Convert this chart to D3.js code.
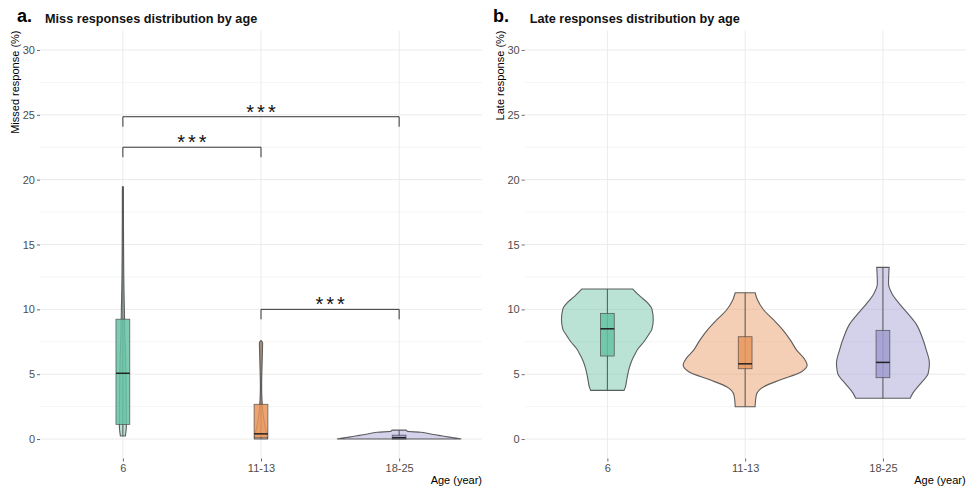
<!DOCTYPE html>
<html>
<head>
<meta charset="utf-8">
<script src="https://cdn.jsdelivr.net/npm/d3@7"></script>
<style>
body { margin: 0; background: #fff; }
text { font-family: "Liberation Sans", Arial, sans-serif; }
</style>
</head>
<body>
<div id="wrapper"></div>
<script>
// categories and axis ticks
const ageGroups = ["6", "11-13", "18-25"];
const yTicks = [0, 5, 10, 15, 20, 25, 30];
const yMinorTicks = [2.5, 7.5, 12.5, 17.5, 22.5, 27.5];

// violin outlines: [value (%), relative density]
const missViolin6 = [[0.23, 0.04], [1, 0.056], [2, 0.056], [4, 0.052], [6, 0.045], [8, 0.032], [10, 0.024], [12, 0.016], [15, 0.011], [19.45, 0.008]];
const missViolin1113 = [[0, 0.105], [0.1, 0.105], [0.5, 0.089], [1, 0.065], [2, 0.032], [3, 0.016], [4, 0.01], [5, 0.013], [6, 0.019], [7, 0.024], [7.4, 0.026], [7.58, 0.008]];
const missViolin1825 = [[0, 1], [0.05, 0.94], [0.15, 0.81], [0.25, 0.68], [0.35, 0.55], [0.45, 0.45], [0.52, 0.35], [0.6, 0.13], [0.69, 0.113]];

const lateViolin6 = [[3.75, 0.27], [4, 0.29], [4.5, 0.31], [5, 0.33], [5.5, 0.355], [6, 0.39], [6.5, 0.44], [7, 0.5], [7.5, 0.59], [8, 0.66], [8.5, 0.72], [9.2, 0.74], [10, 0.72], [10.5, 0.65], [11, 0.53], [11.57, 0.41]];
const lateViolin1113 = [[2.49, 0.16], [3.39, 0.18], [4.03, 0.3], [4.55, 0.56], [5.19, 0.91], [5.7, 1], [6.22, 0.95], [6.86, 0.83], [7.63, 0.73], [8.4, 0.61], [9.18, 0.46], [9.95, 0.3], [10.72, 0.2], [11.28, 0.16]];
const lateViolin1825 = [[3.14, 0.44], [3.52, 0.48], [4.29, 0.61], [5.07, 0.73], [5.84, 0.75], [6.86, 0.7], [7.89, 0.63], [8.92, 0.53], [9.69, 0.4], [10.46, 0.26], [11.23, 0.145], [12, 0.09], [13.24, 0.1]];

// box stats: [min, q1, median, q3, max]
const missBoxes = [[0.23, 1.13, 5.07, 9.24, 19.45], [0, 0.1, 0.4, 2.68, 7.58], [0, 0, 0.1, 0.3, 0.69]];
const lateBoxes = [[3.75, 6.4, 8.5, 9.69, 11.57], [2.49, 5.42, 5.8, 7.89, 11.28], [3.14, 4.73, 5.91, 8.38, 13.24]];

// significance brackets on the miss panel
const missBrackets = [
    { from: "6", to: "18-25", level: 24.85, label: "***" },
    { from: "6", to: "11-13", level: 22.5, label: "***" },
    { from: "11-13", to: "18-25", level: 10.0, label: "***" }
];

const groupColors = ["#66C2A5", "#E8955A", "#A09CD0"];

let dimensions = {
    width: 968,
    height: 489,
    top: 30.5,
    bottom: 458.5
}

let wrapper = d3.select("#wrapper").append("svg")
    .attr("width", dimensions.width)
    .attr("height", dimensions.height);
wrapper.append("rect").attr("width", dimensions.width).attr("height", dimensions.height).attr("fill", "#fff");

const yScaler = d3.scaleLinear()
    .domain([-1.5, 31.5])
    .range([dimensions.bottom, dimensions.top]);

function drawPanel(p) {
    const xScaler = d3.scalePoint()
        .domain(ageGroups)
        .range([p.left, p.right])
        .padding(0.6);
    const widthScaler = d3.scaleLinear().domain([0, 1]).range([0, 0.45 * xScaler.step()]);
    const boxWidth = 0.1 * xScaler.step();

    const g = wrapper.append("g");

    // grid
    g.selectAll(".minor").data(yMinorTicks).enter().append("line")
        .attr("x1", p.left).attr("x2", p.right)
        .attr("y1", d => yScaler(d)).attr("y2", d => yScaler(d))
        .attr("stroke", "#f3f3f3").attr("stroke-width", 0.8);
    g.selectAll(".major").data(yTicks).enter().append("line")
        .attr("x1", p.left).attr("x2", p.right)
        .attr("y1", d => yScaler(d)).attr("y2", d => yScaler(d))
        .attr("stroke", "#ebebeb").attr("stroke-width", 1);
    g.selectAll(".vgrid").data(ageGroups).enter().append("line")
        .attr("x1", d => xScaler(d)).attr("x2", d => xScaler(d))
        .attr("y1", dimensions.top).attr("y2", dimensions.bottom)
        .attr("stroke", "#ebebeb").attr("stroke-width", 1);

    // axes
    const yAxis = g.append("g")
        .attr("transform", `translate(${p.left},0)`)
        .call(d3.axisLeft(yScaler).tickValues(yTicks).tickSize(3).tickPadding(2));
    const xAxis = g.append("g")
        .attr("transform", `translate(0,${dimensions.bottom})`)
        .call(d3.axisBottom(xScaler).tickSize(3).tickPadding(3));
    [yAxis, xAxis].forEach(a => {
        a.select(".domain").remove();
        a.selectAll(".tick line").attr("stroke", "#444").attr("stroke-width", 0.8);
        a.selectAll(".tick text").attr("fill", "#4d4d4d").style("font-size", "11px")
            .style("font-family", "'Liberation Sans', Arial, sans-serif");
    });

    // violins
    p.violins.forEach((vd, i) => {
        const cx = xScaler(ageGroups[i]);
        const area = d3.area()
            .curve(d3.curveMonotoneY)
            .y(d => yScaler(d[0]))
            .x0(d => cx - widthScaler(d[1]))
            .x1(d => cx + widthScaler(d[1]));
        g.append("path")
            .attr("d", area(vd))
            .attr("fill", groupColors[i])
            .attr("fill-opacity", 0.45)
            .attr("stroke", "#444")
            .attr("stroke-opacity", 0.85)
            .attr("stroke-width", 1.1);
    });

    // boxplots
    p.boxes.forEach((b, i) => {
        const cx = xScaler(ageGroups[i]);
        g.append("line")
            .attr("x1", cx).attr("x2", cx)
            .attr("y1", yScaler(b[0])).attr("y2", yScaler(b[4]))
            .attr("stroke", "#555").attr("stroke-width", 1);
        g.append("rect")
            .attr("x", cx - boxWidth / 2)
            .attr("width", boxWidth)
            .attr("y", yScaler(b[3]))
            .attr("height", yScaler(b[1]) - yScaler(b[3]))
            .attr("fill", groupColors[i])
            .attr("fill-opacity", 0.85)
            .attr("stroke", "#444")
            .attr("stroke-opacity", 0.8)
            .attr("stroke-width", 0.8);
        g.append("line")
            .attr("x1", cx - boxWidth / 2).attr("x2", cx + boxWidth / 2)
            .attr("y1", yScaler(b[2])).attr("y2", yScaler(b[2]))
            .attr("stroke", "#222").attr("stroke-width", 1.5);
    });

    // significance brackets
    (p.brackets || []).forEach(br => {
        const x1 = xScaler(br.from), x2 = xScaler(br.to);
        const drop = 0.77;
        g.append("path")
            .attr("d", `M${x1},${yScaler(br.level - drop)}V${yScaler(br.level)}H${x2}V${yScaler(br.level - drop)}`)
            .attr("fill", "none")
            .attr("stroke", "#333")
            .attr("stroke-width", 1);
        g.append("text")
            .attr("x", (x1 + x2) / 2 + 1.5)
            .attr("y", yScaler(br.level) + 2)
            .attr("text-anchor", "middle")
            .style("font-size", "20px")
            .style("letter-spacing", "3px")
            .attr("fill", "#111")
            .text(br.label);
    });

    // titles
    g.append("text")
        .attr("x", p.letterX).attr("y", 22)
        .style("font-size", "18px").style("font-weight", "bold")
        .text(p.letter);
    g.append("text")
        .attr("x", p.left + 5).attr("y", 23)
        .style("font-size", "12.7px").style("font-weight", "bold")
        .attr("fill", "#111")
        .text(p.title);
    g.append("text")
        .attr("transform", `translate(${p.left - 21},${dimensions.top}) rotate(-90)`)
        .attr("text-anchor", "end")
        .style("font-size", "11px")
        .text(p.yTitle);
    g.append("text")
        .attr("x", p.right).attr("y", 484)
        .attr("text-anchor", "end")
        .style("font-size", "11px")
        .text("Age (year)");
}

drawPanel({
    left: 40, right: 482, letter: "a.", letterX: 17,
    title: "Miss responses distribution by age",
    yTitle: "Missed response (%)",
    violins: [missViolin6, missViolin1113, missViolin1825],
    boxes: missBoxes,
    brackets: missBrackets
});

drawPanel({
    left: 524.7, right: 965.6, letter: "b.", letterX: 493,
    title: "Late responses distribution by age",
    yTitle: "Late response (%)",
    violins: [lateViolin6, lateViolin1113, lateViolin1825],
    boxes: lateBoxes
});
</script>
</body>
</html>
